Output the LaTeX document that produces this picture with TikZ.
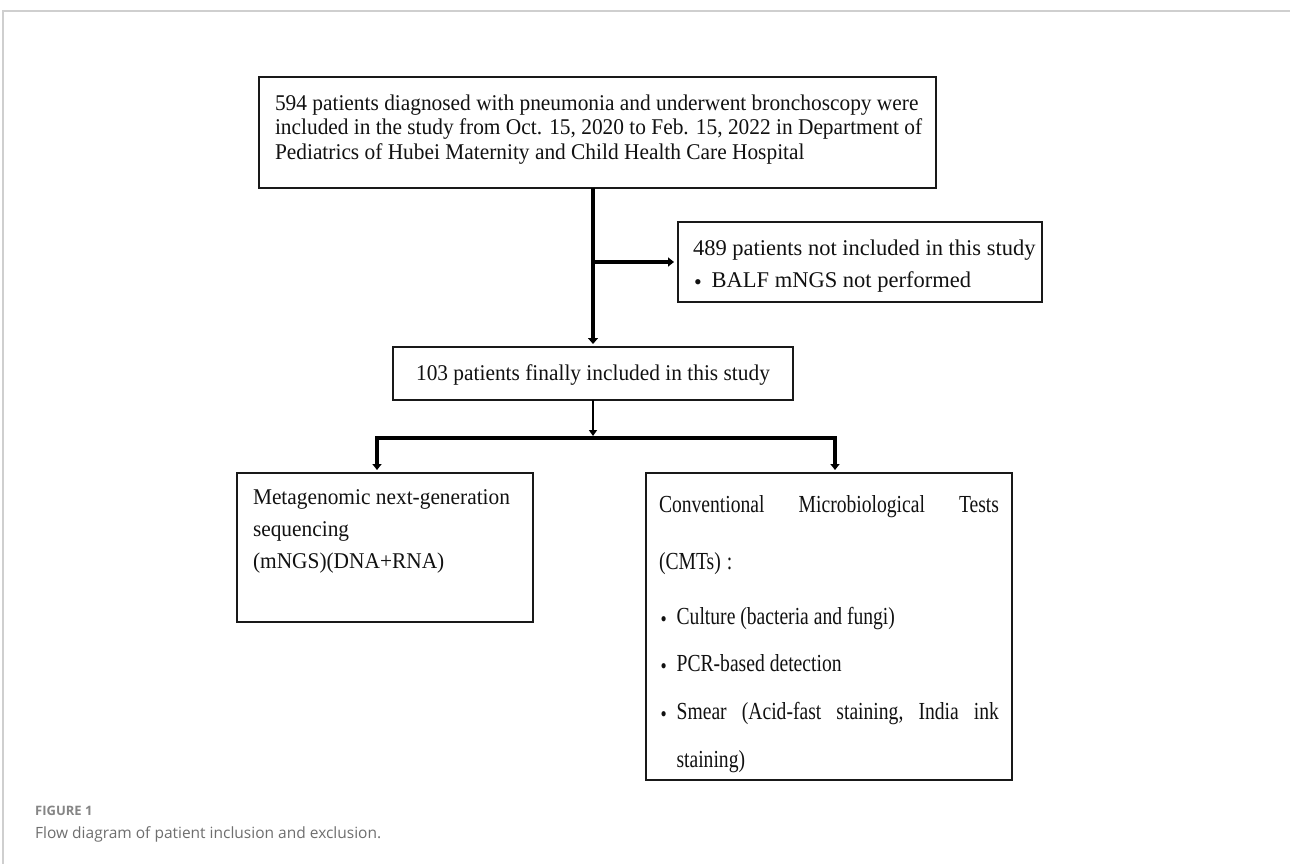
\documentclass[tikz,border=0pt]{standalone}
\usepackage{fontspec}
\setmainfont{Liberation Serif}
\newfontfamily\bodyfont[FakeStretch=0.95]{Liberation Serif}
\newfontfamily\plainfont{Liberation Serif}
\newfontfamily\narrowfont[FakeStretch=0.8]{Liberation Serif}
\newfontfamily\capfont{Open Sans}
\usetikzlibrary{arrows.meta}
\definecolor{framegray}{HTML}{CFCFCF}
\definecolor{capgray}{HTML}{858585}
\definecolor{captextgray}{HTML}{6E6E6E}
\definecolor{inkblack}{HTML}{111111}
\newcommand{\boxtxt}[4]{\parbox[c][#1][t]{#2}{\setlength{\parindent}{0pt}\vspace*{#3}#4}}
\newcommand{\bigbullet}{\raisebox{-2pt}{\fontsize{22}{22}\selectfont\textbullet}}
\tikzset{
  boxnode/.style={draw=black!90, line width=1.2pt, inner xsep=#1, inner ysep=0pt, anchor=north west, outer sep=0pt, text=inkblack},
  heavyarrow/.style={line width=4.5pt, draw=black, -{Triangle[width=10pt,length=6pt]}, shorten >=3pt},
  medarrow/.style={line width=3.5pt, draw=black, -{Triangle[width=9pt,length=6pt]}, shorten >=4pt},
  lightarrow/.style={line width=2.6pt, draw=black, -{Triangle[width=8pt,length=6pt]}, shorten >=2pt},
  barline/.style={line width=4pt, draw=black, {Triangle[width=9pt,length=6pt]}-{Triangle[width=9pt,length=6pt]}, shorten >=3pt, shorten <=3pt},
  framestyle/.style={draw=framegray, line width=1.6pt},
}
\begin{document}
\begin{tikzpicture}[x=1pt,y=-1pt]
\useasboundingbox (0,0) rectangle (1290,864);
% frame
\draw[framestyle] (3,864) -- (3,11) -- (1290,11);

% boxes
\node[boxnode=16pt] (top) at (259,77) {\boxtxt{111pt}{645pt}{17.5pt}{\bodyfont\fontsize{22.5}{24.5}\selectfont
\mbox{594 patients diagnosed with pneumonia and underwent bronchoscopy were}\\
\mbox{included in the study from Oct. 15, 2020 to Feb. 15, 2022 in Department of}\\
\mbox{Pediatrics of Hubei Maternity and Child Health Care Hospital}}};

\node[boxnode=15pt] (rej) at (678,222) {\boxtxt{80pt}{334pt}{17.8pt}{\plainfont\fontsize{22.5}{32}\selectfont
\mbox{489 patients not included in this study}\\
\mbox{\hspace*{1pt}\bigbullet\hspace{10pt}BALF mNGS not performed}}};

\node[boxnode=16pt] (mid) at (393,347) {\boxtxt{53pt}{368pt}{17.7pt}{\centering\bodyfont\fontsize{22.5}{24}\selectfont
103 patients finally included in this study}};

\node[boxnode=16pt] (mngs) at (237,473) {\boxtxt{149pt}{264pt}{17pt}{\bodyfont\fontsize{22.5}{32}\selectfont
\mbox{Metagenomic next-generation}\\
\mbox{sequencing}\\
\mbox{(mNGS)(DNA+RNA)}}};

\node[boxnode=13pt] (cmt) at (646,473) {\boxtxt{307pt}{340pt}{22.3pt}{\narrowfont\fontsize{24.5}{24}\selectfont
Conventional\hfill Microbiological\hfill Tests\\[33pt]
(CMTs)\hspace{6pt}:\\[31pt]
\hspace*{1.5pt}\bigbullet\hspace{10pt}Culture (bacteria and fungi)\\[23pt]
\hspace*{1.5pt}\bigbullet\hspace{10pt}PCR-based detection\\[24pt]
\hspace*{1.5pt}\bigbullet\hspace{10pt}Smear\hfill (Acid-fast\hfill staining,\hfill India\hfill ink\\[24pt]
\hspace*{17.5pt}staining)}};

% connectors
\coordinate (split) at (mid.north |- rej.west);
\coordinate (barL) at (377,438);
\coordinate (barR) at (835,438);
\draw[heavyarrow] (mid.north |- top.south) -- (mid.north);
\draw[medarrow] (split) -- (rej.west);
\draw[lightarrow] (mid.south) -- (mid.south |- barL);
\draw[barline] (barL |- mngs.north) -- (barL) -- (barR) -- (barR |- cmt.north);

% caption
\node[anchor=base west, inner sep=0pt, text=capgray, font=\capfont\bfseries\fontsize{13}{13}\selectfont] (figlabel) at (35,815) {FIGURE 1};
\node[anchor=base west, inner sep=0pt, text=captextgray, font=\capfont\fontsize{15.5}{15.5}\selectfont] (caption) at (35,838) {Flow diagram of patient inclusion and exclusion.};
\end{tikzpicture}
\end{document}
